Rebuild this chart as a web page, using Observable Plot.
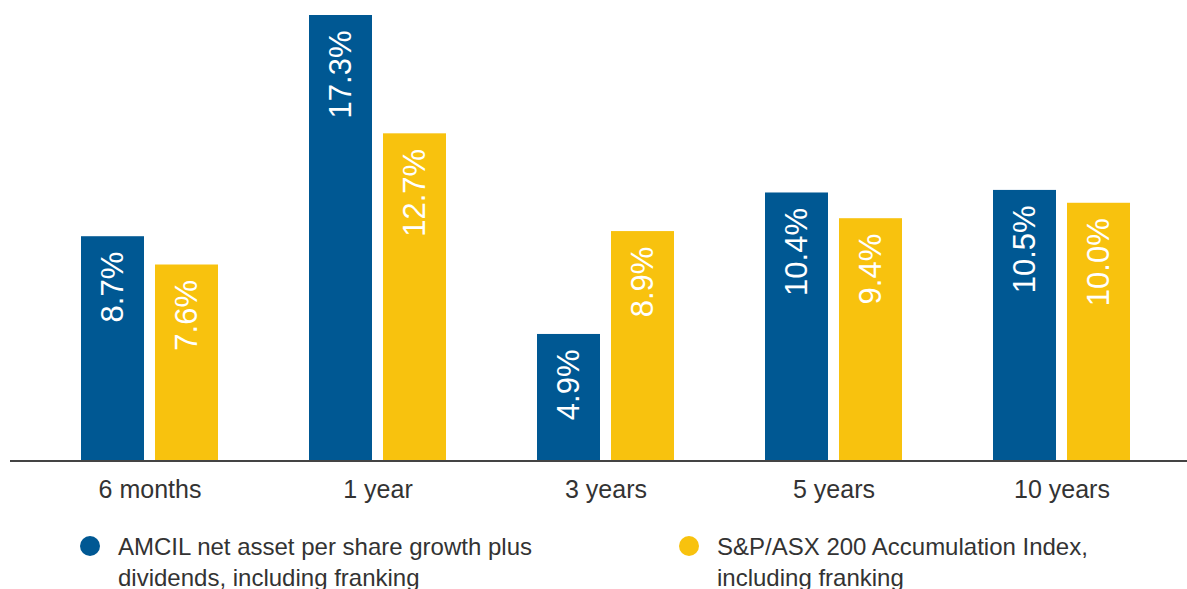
<!DOCTYPE html>
<html>
<head>
<meta charset="utf-8">
<script src="https://cdn.jsdelivr.net/npm/d3@7"></script>
<script src="https://cdn.jsdelivr.net/npm/@observablehq/plot@0.6"></script>
<style>
  html, body { margin: 0; padding: 0; background: #fff; overflow: hidden; }
  #wrap { width: 1187px; position: relative; font-family: "Liberation Sans", Arial, Helvetica, sans-serif; }
  .legend { position: relative; height: 80px; font-size: 24px; line-height: 31px; color: #333; }
  .item { position: absolute; top: 11px; display: flex; align-items: flex-start; }
  .dot { width: 20px; height: 20px; border-radius: 50%; margin-top: 5px; flex: none; }
</style>
</head>
<body>
<div id="wrap"></div>
<script>
const categories = ["6 months", "1 year", "3 years", "5 years", "10 years"];
const seriesKeys = ["amcil", "index"];
const seriesLabels = ["AMCIL net asset per share growth plus dividends, including franking",
                      "S&P/ASX 200 Accumulation Index, including franking"];
const seriesColors = ["#005893", "#F8C20E"];
const amcilValues = [8.7, 17.3, 4.9, 10.4, 10.5];
const indexValues = [7.6, 12.7, 8.9, 9.4, 10.0];

const data = [];
categories.forEach((c, i) => {
  data.push({category: c, series: "amcil", value: amcilValues[i]});
  data.push({category: c, series: "index", value: indexValues[i]});
});

const chart = Plot.plot({
  width: 1187,
  height: 520,
  marginTop: 15,
  marginLeft: 80,
  marginRight: 57,
  marginBottom: 60,
  style: {fontFamily: '"Liberation Sans", Arial, Helvetica, sans-serif', background: "#fff"},
  fx: {domain: categories, paddingInner: 0.4, paddingOuter: 0, label: null},
  x: {domain: seriesKeys, paddingInner: 0.149, paddingOuter: 0, axis: null},
  y: {domain: [0, 17.3], axis: null},
  color: {domain: seriesKeys, range: seriesColors},
  marks: [
    Plot.barY(data, {fx: "category", x: "series", y: "value", fill: "series"}),
    Plot.ruleY([0], {stroke: "#444", strokeWidth: 2, insetLeft: -71, insetRight: -71, shapeRendering: "crispEdges"}),
    Plot.text(data, {
      fx: "category", x: "series", y: "value",
      text: d => d.value.toFixed(1) + "%",
      rotate: -90, textAnchor: "end", lineAnchor: "middle",
      dy: 15, fill: "#fff", fontSize: 31
    }),
    Plot.axisFx({anchor: "bottom", tickSize: 0, tickPadding: 20, fontSize: 25, fill: "#333", label: null})
  ]
});

const wrap = document.getElementById("wrap");
wrap.appendChild(chart);

const legend = document.createElement("div");
legend.className = "legend";
const lefts = [80, 679];
const widths = [480, 400];
seriesKeys.forEach((k, i) => {
  const item = document.createElement("div");
  item.className = "item";
  item.style.left = lefts[i] + "px";
  const dot = document.createElement("span");
  dot.className = "dot";
  dot.style.background = seriesColors[i];
  const txt = document.createElement("span");
  txt.style.marginLeft = "18px";
  txt.style.maxWidth = widths[i] + "px";
  txt.textContent = seriesLabels[i];
  item.appendChild(dot);
  item.appendChild(txt);
  legend.appendChild(item);
});
wrap.appendChild(legend);
</script>
</body>
</html>
